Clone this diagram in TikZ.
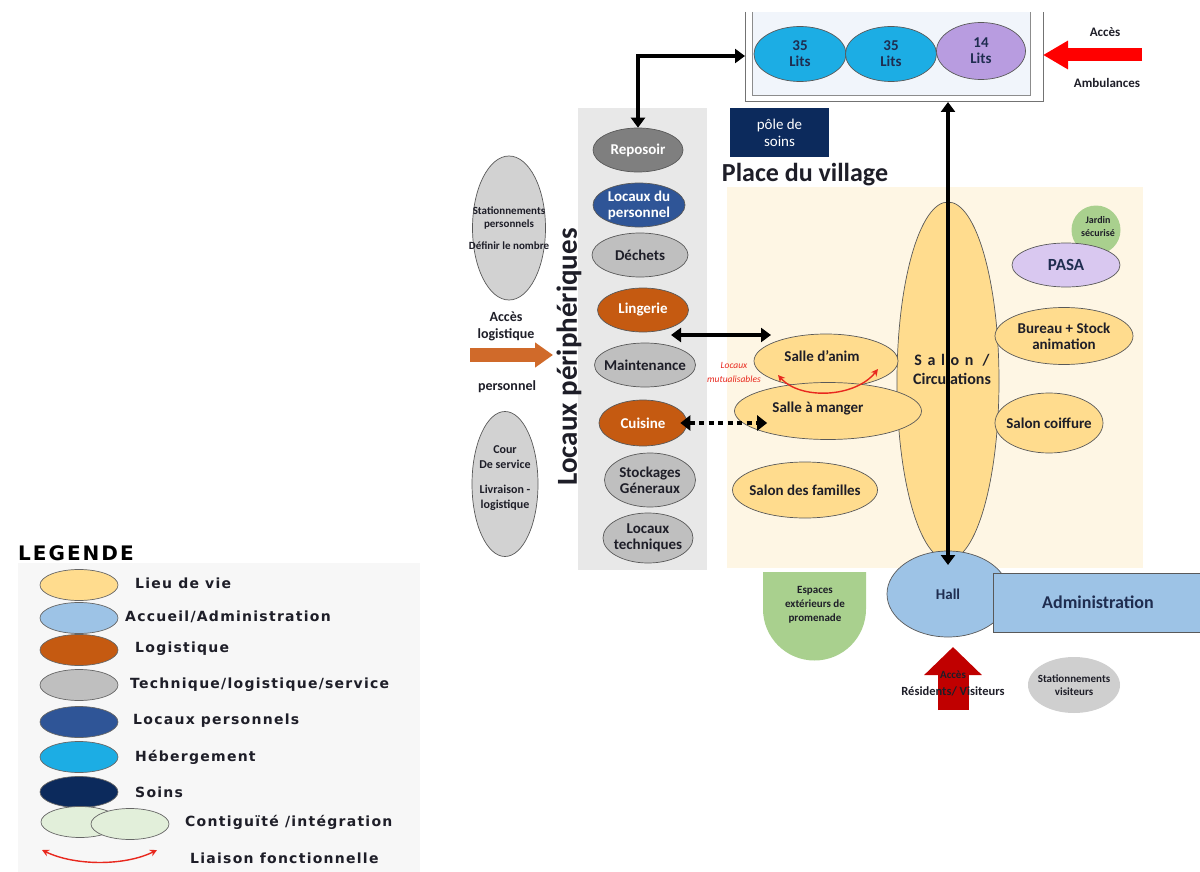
\documentclass[tikz,border=0pt]{standalone}
\usepackage{fontspec}
\setmainfont{Carlito}
\newfontfamily\legfont{DejaVu Sans}[LetterSpace=9]
\newfontfamily\legtitle{DejaVu Sans}[LetterSpace=10]
\usetikzlibrary{shapes.geometric,arrows.meta,calc}
\definecolor{lieu}{HTML}{FFDC8E}
\definecolor{cream}{HTML}{FEF6E4}
\definecolor{acc}{HTML}{9DC3E6}
\definecolor{logi}{HTML}{C55A11}
\definecolor{tech}{HTML}{BFBFBF}
\definecolor{darkg}{HTML}{7F7F7F}
\definecolor{pers}{HTML}{2F5597}
\definecolor{heb}{HTML}{1CADE4}
\definecolor{soins}{HTML}{0C2A5C}
\definecolor{lits}{HTML}{B89CE0}
\definecolor{pasa}{HTML}{D9C8F0}
\definecolor{vert}{HTML}{A9D08E}
\definecolor{contig}{HTML}{E2EFDA}
\definecolor{panel}{HTML}{E8E8E8}
\definecolor{boxin}{HTML}{F1F5FB}
\definecolor{legbg}{HTML}{F7F7F7}
\definecolor{txt}{HTML}{1E1E28}
\definecolor{navytxt}{HTML}{1F2D50}
\definecolor{rouge}{HTML}{E8281E}
\definecolor{rougef}{HTML}{C00000}
\definecolor{orangef}{HTML}{D06A2A}
\tikzset{
  ell/.style={ellipse, draw=black!65, line width=0.7pt, inner sep=0pt},
  tx/.style={font=\bfseries\fontsize{15}{16}\selectfont, align=center, inner sep=0pt, text=txt},
  wtx/.style={tx, text=white},
  sm/.style={font=\bfseries\fontsize{11}{13}\selectfont, align=center, inner sep=0pt, text=txt},
  dbl/.style={line width=3.5pt, {Triangle[length=10pt,width=14pt]}-{Triangle[length=10pt,width=14pt]}},
  liaison/.style={rouge, line width=1.4pt, {Stealth[length=7pt,width=7pt]}-{Stealth[length=7pt,width=7pt]}},
  legell/.style={ellipse, draw=black!60, line width=0.7pt, inner sep=0pt, minimum width=78, minimum height=31},
  legtx/.style={font=\legfont\bfseries\fontsize{14}{15}\selectfont, anchor=west, inner sep=0pt, text=txt},
}
\begin{document}
\begin{tikzpicture}[x=1pt,y=-1pt]
\fill[white] (0,0) rectangle (1200,872);
\useasboundingbox (0,0) rectangle (1200,872);

% ---------- backgrounds
\fill[legbg] (18,563) rectangle (420,872);
\fill[panel] (578,108) rectangle (707,570);
\fill[cream] (727,187) rectangle (1143,568);

% ---------- top box (hebergement / soins)
\fill[boxin] (752,12) rectangle (1030,96);
\draw[black!55, line width=1pt] (745,12) |- (1043,102) -- (1043,12);
\draw[black!45, line width=1pt] (752,12) |- (1030,96) -- (1030,12);
\coordinate (tbw) at (745,56);
\coordinate (tbe) at (1043,55);
\coordinate (tbs) at (948,102);
\node[ell, fill=heb, minimum width=92, minimum height=55] (l1) at (800,54) {};
\node[tx, text=navytxt] (l1t) at (l1) {35\\Lits};
\node[ell, fill=heb, minimum width=91, minimum height=55] (l2) at (891,54) {};
\node[tx, text=navytxt] (l2t) at (l2) {35\\Lits};
\node[ell, fill=lits, minimum width=89, minimum height=57] (l3) at (981,51) {};
\node[tx, text=navytxt] (l3t) at (l3) {14\\Lits};

% ambulance access
\coordinate (amb) at (1142,55);
\draw[red, line width=13pt, -{Triangle[length=25pt,width=27pt]}] (amb) -- (tbe);
\node[tx, font=\bfseries\fontsize{13}{14}\selectfont] (acc1) at (1105,32) {Accès};
\node[tx, font=\bfseries\fontsize{13}{14}\selectfont] (acc2) at (1107,83) {Ambulances};

% ---------- pole de soins / place du village
\node[fill=soins, minimum width=99, minimum height=49, inner sep=0pt, align=center,
      text=white, font=\fontsize{15}{17}\selectfont] (pole) at (779.5,132.5) {pôle de\\soins};
\node[tx, font=\bfseries\fontsize{26}{28}\selectfont] (place) at (805,175) {Place du village};

% ---------- locaux peripheriques
\node[tx, rotate=90, font=\bfseries\fontsize{29}{30}\selectfont] (lp) at (569,357) {Locaux périphériques};
\node[ell, fill=darkg, minimum width=90, minimum height=44] (repos) at (638,150) {};
\node[wtx] (repost) at (repos) {Reposoir};
\node[ell, fill=pers, minimum width=92, minimum height=44] (lperso) at (639,205) {};
\node[wtx] (lpersot) at (lperso) {Locaux du\\personnel};
\node[ell, fill=tech, minimum width=96, minimum height=44] (dech) at (640,255) {};
\node[tx] (decht) at (dech) {Déchets};
\node[ell, fill=logi, minimum width=91, minimum height=44] (ling) at (643,310) {};
\node[wtx] (lingt) at (ling) {Lingerie};
\node[ell, fill=tech, minimum width=101, minimum height=44] (maint) at (645,365) {};
\node[tx] (maintt) at (maint) {Maintenance};
\node[ell, fill=logi, minimum width=88, minimum height=46] (cuis) at (643,423) {};
\node[wtx] (cuist) at (cuis) {Cuisine};
\node[ell, fill=tech, minimum width=91, minimum height=54] (stock) at (650,480) {};
\node[tx] (stockt) at (stock) {Stockages\\Géneraux};
\node[ell, fill=tech, minimum width=90, minimum height=50] (ltech) at (648,538) {};
\node[tx] (ltecht) at (ltech) {Locaux\\techniques};

% ---------- left of panel
\node[ell, fill=tech!70, minimum width=73, minimum height=144] (statp) at (509,228) {};
\node[sm] (statpt) at (statp) {Stationnements\\personnels\\[9pt]Définir le nombre};
\node[ell, fill=tech!70, minimum width=66, minimum height=145] (cour) at (505,484) {};
\node[sm, font=\bfseries\fontsize{12}{15}\selectfont] (court) at (505,478) {Cour\\De service\\[10pt]Livraison -\\logistique};
\node[tx, font=\bfseries\fontsize{14}{17}\selectfont] (alog) at (506,326) {Accès\\logistique};
\coordinate (alogs) at (470,355);
\coordinate (aloge) at (553,355);
\draw[orangef, line width=14pt, -{Triangle[length=18pt,width=24pt]}] (alogs) -- (aloge);
\node[tx, font=\bfseries\fontsize{14}{15}\selectfont] (pers) at (507,387) {personnel};

% ---------- place du village content
\node[ell, fill=lieu, minimum width=102, minimum height=358] (salon) at (948,381) {};
\node[tx, font=\bfseries\fontsize{16}{19}\selectfont] (salont) at (952,369) {{\addfontfeature{LetterSpace=35}Salon /}\\Circulations};
\node[ell, fill=lieu, minimum width=144, minimum height=54] (anim) at (826,361) {};
\node[tx] (animt) at (822,356) {Salle d'anim};
\node[ell, fill=lieu, minimum width=187, minimum height=57] (sam) at (828,411) {};
\node[tx] (samt) at (818,409) {Salle à manger};
\node[ell, fill=lieu, minimum width=145, minimum height=56] (sfam) at (805,490) {};
\node[tx] (sfamt) at (sfam) {Salon des familles};
\node[ell, fill=lieu, minimum width=138, minimum height=57] (bur) at (1064,336) {};
\node[tx] (burt) at (bur) {Bureau + Stock\\animation};
\node[ell, fill=lieu, minimum width=108, minimum height=60] (coif) at (1049,423) {};
\node[tx] (coift) at (coif) {Salon coiffure};
\node[circle, fill=vert, minimum size=49, inner sep=0pt] (jardin) at (1096,230) {};
\node[sm, font=\bfseries\fontsize{10}{13}\selectfont] (jardint) at (1098,227) {Jardin\\sécurisé};
\node[ell, fill=pasa, minimum width=108, minimum height=44] (pasa) at (1066,265) {};
\node[tx, font=\bfseries\fontsize{17}{18}\selectfont, text=navytxt] (pasat) at (pasa) {PASA};

% liaison fonctionnelle salle d'anim / salle a manger
\coordinate (la1) at (778,375);
\coordinate (la2) at (878,369);
\draw[liaison] (la1) .. controls (800,400) and (855,398) .. (la2);
\node[font=\itshape\fontsize{9.5}{14}\selectfont, text=rouge, align=center, inner sep=0pt] (mutu) at (734,372) {Locaux\\mutualisables};

% connectors from locaux peripheriques
\coordinate (lm) at (671,335);
\coordinate (lanim) at (771,335);
\draw[dbl] (lm) -- (lanim);
\draw[line width=4pt, dash pattern=on 5pt off 4.5pt, {Triangle[length=10pt,width=15pt]}-{Triangle[length=10pt,width=15pt]}]
  ([xshift=-7pt]cuis.east) -- ([xshift=33pt]cuis.east -| sam.west);

% ---------- entrance
\node[ell, fill=acc, minimum width=122, minimum height=86] (hall) at (948,594) {};
\node[tx, text=navytxt] (hallt) at (hall) {Hall};
\node[draw=black!65, line width=0.8pt, fill=acc, minimum width=210, minimum height=59, inner sep=0pt,
      font=\bfseries\fontsize{18}{19}\selectfont, text=navytxt] (admin) at (1098,602.5) {Administration};
\coordinate (hallin) at (948,565);
\draw[dbl] (tbs) -- (hallin);
\draw[dbl] (tbw) -| (repos.north);

\fill[vert] (763,572) -- (866,572) -- (866,609)
  .. controls (866,637.4) and (843.1,660.5) .. (814.5,660.5)
  .. controls (786,660.5) and (763,637.4) .. (763,609) -- cycle;
\node[sm, font=\bfseries\fontsize{11}{14}\selectfont] (esp) at (815,605) {Espaces\\extérieurs de\\promenade};

\coordinate (resb) at (953,710);
\coordinate (rest) at (953,647);
\draw[rougef, line width=31pt, -{Triangle[length=28pt,width=56pt]}] (resb) -- (rest);
\node[tx, font=\bfseries\fontsize{11}{12}\selectfont] (resa) at (953,675) {Accès};
\node[tx, font=\bfseries\fontsize{12.5}{14}\selectfont] (resv) at (953,691) {Résidents/ Visiteurs};

\node[ellipse, fill=tech!75, minimum width=92, minimum height=56, inner sep=0pt] (statv) at (1074,685) {};
\node[sm] (statvt) at (statv) {Stationnements\\visiteurs};

% ---------- legend
\node[font=\legtitle\bfseries\fontsize{20}{21}\selectfont, anchor=west, inner sep=0pt, text=black] (leg) at (18,553) {LEGENDE};
\node[legell, fill=lieu] (g1) at (79,585) {};
\node[legtx] (g1t) at (135,583) {Lieu de vie};
\node[legell, fill=acc] (g2) at (79,618) {};
\node[legtx] (g2t) at (125,617) {Accueil/Administration};
\node[legell, fill=logi] (g3) at (79,650) {};
\node[legtx] (g3t) at (135,649) {Logistique};
\node[legell, fill=tech] (g4) at (79,685) {};
\node[legtx] (g4t) at (130,685) {Technique/logistique/service};
\node[legell, fill=pers] (g5) at (79,722) {};
\node[legtx] (g5t) at (133,721) {Locaux personnels};
\node[legell, fill=heb] (g6) at (79,757) {};
\node[legtx] (g6t) at (135,757) {Hébergement};
\node[legell, fill=soins] (g7) at (79,792) {};
\node[legtx] (g7t) at (135,792) {Soins};
\node[legell, fill=contig] (g8a) at (80,822) {};
\node[legell, fill=contig] (g8b) at (130,824) {};
\node[legtx] (g8t) at (185,822) {Contiguïté /intégration};
\coordinate (g9a) at (42,850);
\coordinate (g9b) at (157,850);
\draw[liaison] (g9a) .. controls (75,866) and (125,866) .. (g9b);
\node[legtx] (g9t) at (190,858) {Liaison fonctionnelle};
\end{tikzpicture}
\end{document}
